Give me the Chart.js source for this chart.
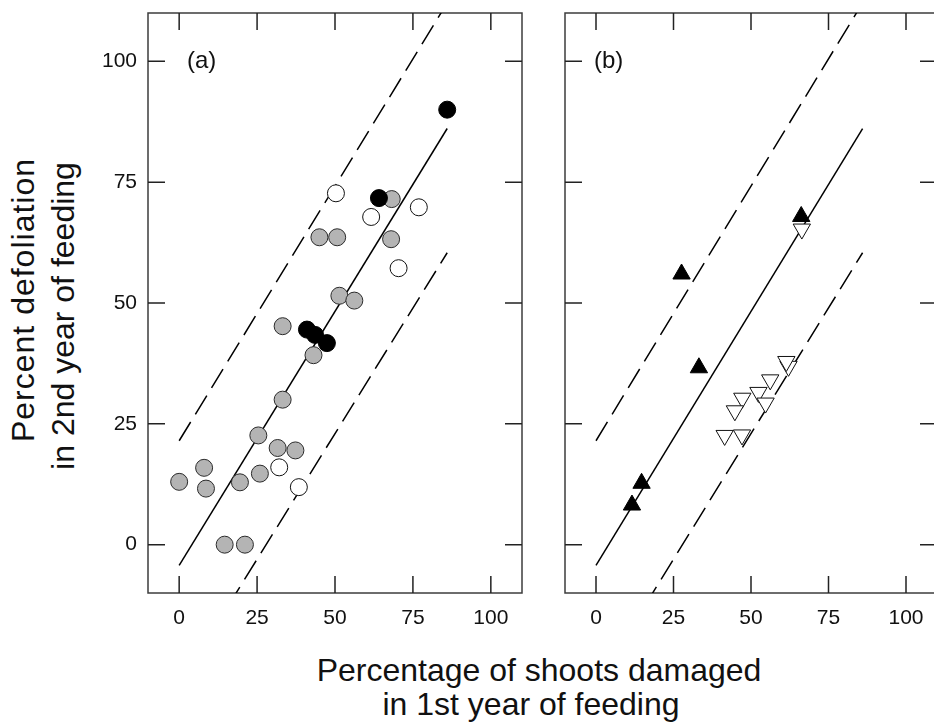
<!DOCTYPE html>
<html>
<head>
<meta charset="utf-8">
<title>Defoliation vs shoot damage</title>
<script src="https://cdn.jsdelivr.net/npm/chart.js@4.4.1/dist/chart.umd.min.js"></script>
<style>
  html, body { margin: 0; padding: 0; background: #fff; overflow: hidden; }
  body { width: 934px; height: 722px; position: relative; font-family: "Liberation Sans", Arial, sans-serif; color: #111; }
  canvas { position: absolute; top: 0; }
  .title { position: absolute; font-size: 32px; line-height: 40px; height: 40px; white-space: pre; text-align: center; }
  .rot { width: 500px; transform: rotate(-90deg); transform-origin: 50% 50%; }
</style>
</head>
<body>
<canvas id="chartA" width="444" height="640" style="left:88px"></canvas>
<canvas id="chartB" width="400" height="640" style="left:554px"></canvas>

<div class="title rot" style="left:-227px; top:280px; letter-spacing:1px;">Percent defoliation</div>
<div class="title rot" style="left:-187px; top:296px;">in 2nd year of feeding</div>
<div class="title" style="left:239px; top:650px; width:600px;">Percentage of shoots damaged</div>
<div class="title" style="left:231px; top:684px; width:600px;">in 1st year of feeding</div>

<script>
// axis ticks
const xTicks = [0, 25, 50, 75, 100];
const yTicks = [0, 25, 50, 75, 100];

// panel (a): circles
const greyX = [0, 8, 8.6, 14.6, 21.1, 19.5, 25.9, 25.4, 31.6, 37.3, 33.2, 43.1, 33.2, 51.4, 56.2, 45, 50.7, 68, 68.2];
const greyY = [13, 15.9, 11.6, 0, 0, 12.9, 14.7, 22.6, 20, 19.5, 30, 39.2, 45.2, 51.5, 50.5, 63.6, 63.6, 63.2, 71.5];
const openX = [32.1, 38.4, 50.3, 61.6, 76.9, 70.4];
const openY = [16, 11.9, 72.7, 67.8, 69.8, 57.2];
const blackX = [86, 64.1, 41, 43.6, 47.4];
const blackY = [90, 71.7, 44.5, 43.4, 41.7];

// panel (b): triangles
const upX = [66.2, 27.6, 33.2, 14.7, 11.6];
const upY = [67.9, 56, 36.6, 12.7, 8.2];
const downX = [66.4, 62.1, 61.4, 52.4, 56.2, 47.2, 54.7, 44.8, 41.5, 47.1];
const downY = [65.3, 36.9, 37.9, 31.5, 34.1, 30.3, 29.3, 27.7, 22.6, 22.7];

// regression line and dashed bounds (same in both panels)
const lineX = [0, 86];
const fitY = [-4.3, 86.1];
const upperY = [21.5, 112.1];
const lowerY = [-29.0, 60.4];

const FONT = '"Liberation Sans", Arial, sans-serif';
const TICK_LEN = 17;

function points(xs, ys) {
  return xs.map((x, i) => ({ x: x, y: ys[i] }));
}

function lineSet(ys, dash) {
  return {
    data: points(lineX, ys),
    showLine: true,
    borderColor: '#000',
    borderWidth: 1.5,
    borderDash: dash,
    pointRadius: 0,
    fill: false
  };
}

// box round the plot area, inward tick marks on all four sides, panel letter
const framePlugin = {
  id: 'frame',
  beforeDatasetsDraw(chart, args, opts) {
    const ctx = chart.ctx;
    const a = chart.chartArea;
    const x = chart.scales.x;
    const y = chart.scales.y;
    ctx.save();
    ctx.strokeStyle = '#3c3c3c';
    ctx.lineWidth = 1.5;
    ctx.strokeRect(a.left, a.top, a.right - a.left, a.bottom - a.top);
    ctx.beginPath();
    xTicks.forEach(v => {
      const px = x.getPixelForValue(v);
      ctx.moveTo(px, a.bottom); ctx.lineTo(px, a.bottom - TICK_LEN);
      ctx.moveTo(px, a.top); ctx.lineTo(px, a.top + TICK_LEN);
    });
    yTicks.forEach(v => {
      const py = y.getPixelForValue(v);
      ctx.moveTo(a.left, py); ctx.lineTo(a.left + TICK_LEN, py);
      ctx.moveTo(a.right, py); ctx.lineTo(a.right - TICK_LEN, py);
    });
    ctx.strokeStyle = '#222';
    ctx.stroke();
    ctx.fillStyle = '#111';
    ctx.font = '24px ' + FONT;
    ctx.textBaseline = 'middle';
    ctx.textAlign = 'left';
    ctx.fillText(opts.label, a.left + opts.offset, y.getPixelForValue(100));
    ctx.restore();
  }
};

function makeScales(showYLabels, yWidth) {
  return {
    x: {
      type: 'linear',
      min: -10,
      max: 110,
      afterBuildTicks: axis => { axis.ticks = xTicks.map(v => ({ value: v })); },
      afterFit: axis => { axis.height = 47; axis.paddingLeft = 0; axis.paddingRight = 0; },
      grid: { display: false, drawTicks: false },
      border: { display: false },
      ticks: { color: '#111', font: { family: FONT, size: 21 }, padding: 13 }
    },
    y: {
      type: 'linear',
      min: -10,
      max: 110,
      afterBuildTicks: axis => { axis.ticks = yTicks.map(v => ({ value: v })); },
      afterFit: axis => { axis.width = yWidth; axis.paddingTop = 0; axis.paddingBottom = 0; },
      grid: { display: false, drawTicks: false },
      border: { display: false },
      ticks: { display: showYLabels, color: '#111', font: { family: FONT, size: 21 }, padding: 11 }
    }
  };
}

function makeOptions(label, offset, showYLabels, yWidth, padRight) {
  return {
    responsive: false,
    animation: false,
    devicePixelRatio: 1,
    layout: { padding: { top: 13, right: padRight, left: 0, bottom: 0 } },
    plugins: {
      legend: { display: false },
      tooltip: { enabled: false },
      frame: { label: label, offset: offset }
    },
    scales: makeScales(showYLabels, yWidth)
  };
}

// earlier datasets are drawn on top
new Chart(document.getElementById('chartA'), {
  type: 'scatter',
  data: {
    datasets: [
      { data: points(blackX, blackY), pointRadius: 8.5, backgroundColor: '#000', borderColor: '#000', borderWidth: 1 },
      { data: points(openX, openY), pointRadius: 8.5, backgroundColor: '#fff', borderColor: '#111', borderWidth: 1 },
      { data: points(greyX, greyY), pointRadius: 8.5, backgroundColor: '#b4b4b4', borderColor: '#2a2a2a', borderWidth: 1 },
      lineSet(fitY, []),
      lineSet(upperY, [22, 9]),
      lineSet(lowerY, [22, 9])
    ]
  },
  options: makeOptions('(a)', 39, true, 60, 10),
  plugins: [framePlugin]
});

new Chart(document.getElementById('chartB'), {
  type: 'scatter',
  data: {
    datasets: [
      { data: points(upX, upY), pointStyle: 'triangle', pointRadius: 10, backgroundColor: '#000', borderColor: '#000', borderWidth: 1 },
      { data: points(downX, downY), pointStyle: 'triangle', rotation: 180, pointRadius: 10, backgroundColor: '#fff', borderColor: '#111', borderWidth: 1 },
      lineSet(fitY, []),
      lineSet(upperY, [22, 9]),
      lineSet(lowerY, [22, 9])
    ]
  },
  options: makeOptions('(b)', 29, false, 10, 17),
  plugins: [framePlugin]
});
</script>
</body>
</html>
